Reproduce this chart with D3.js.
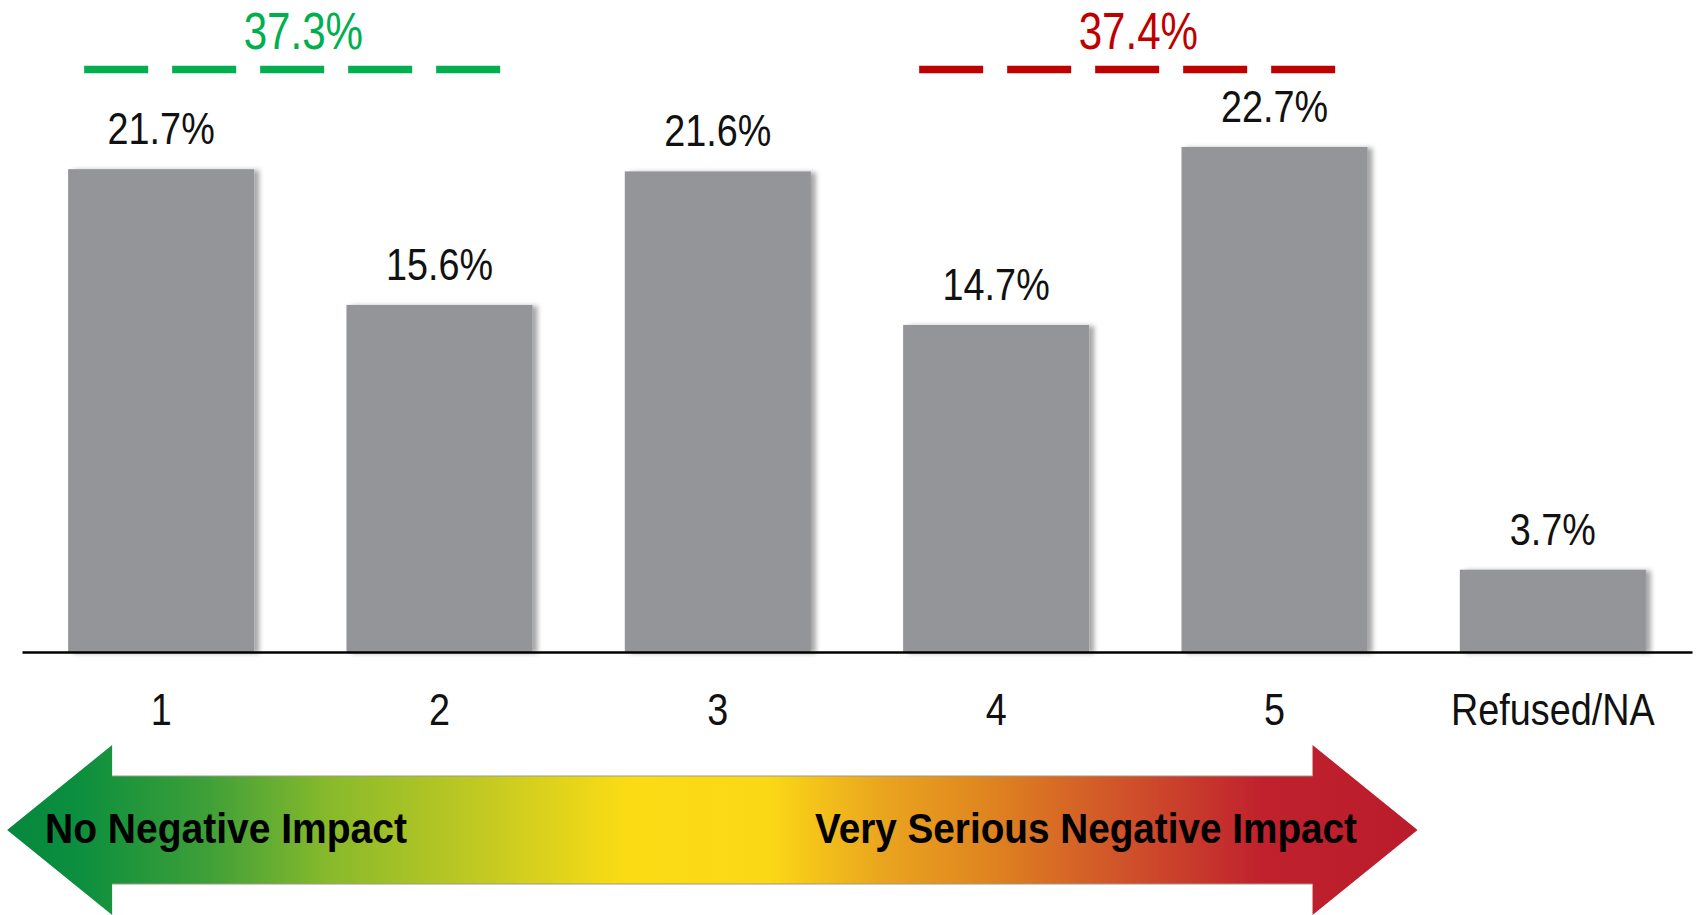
<html>
    <head>
        <script src="https://d3js.org/d3.v7.min.js"></script>
        <style>
            body { margin: 0; background: #fff; }
            .lbl { font-family: "Liberation Sans", Arial, sans-serif; }
        </style>
        <title>Negative impact</title>
    </head>
    <body>
        <div id="chart"></div>
        <script>
            // data
            const categories = ["1", "2", "3", "4", "5", "Refused/NA"];
            const values = [21.7, 15.6, 21.6, 14.7, 22.7, 3.7];
            const groupLabels = ["37.3%", "37.4%"];
            const groupSpans = [["1", "2"], ["4", "5"]];
            const groupColors = ["#00b04f", "#c00000"];
            const arrowLabels = ["No Negative Impact", "Very Serious Negative Impact"];

            const width = 1696;
            const height = 915;
            const baseY = 652;
            const narrow = 0.84; // no condensed font installed, squeeze Liberation Sans

            let svg = d3.select("#chart").append("svg")
                        .attr("width", width)
                        .attr("height", height)

            let defs = svg.append("defs")
            let shadow = defs.append("filter")
                             .attr("id", "shadow")
                             .attr("x", "-10%").attr("y", "-10%")
                             .attr("width", "130%").attr("height", "120%")
            shadow.append("feDropShadow")
                  .attr("dx", 5)
                  .attr("dy", 1)
                  .attr("stdDeviation", 2.5)
                  .attr("flood-color", "#000")
                  .attr("flood-opacity", 0.35)

            let xScale = d3.scaleBand()
                           .domain(categories)
                           .range([22, 1692])
                           .paddingInner(0.3315)
                           .paddingOuter(0.1657)
            let yScale = d3.scaleLinear()
                           .domain([0, 25])
                           .range([baseY, baseY - 25 * 22.25])

            let data = categories.map((c, i) => ({cat: c, val: values[i]}))

            // bars
            svg.append("g").selectAll("rect").data(data)
               .join("rect")
               .attr("x", d => xScale(d.cat))
               .attr("y", d => yScale(d.val))
               .attr("width", xScale.bandwidth())
               .attr("height", d => baseY - yScale(d.val))
               .attr("fill", "#939598")
               .attr("filter", "url(#shadow)")

            // value labels
            svg.append("g").selectAll("text").data(data)
               .join("text")
               .attr("class", "lbl")
               .attr("transform", d => `translate(${xScale(d.cat) + xScale.bandwidth() / 2}, ${yScale(d.val) - 25}) scale(${narrow}, 1)`)
               .attr("text-anchor", "middle")
               .style("font-size", "45px")
               .style("fill", "#111")
               .text(d => d.val.toFixed(1) + "%")

            // baseline + category labels
            let bottomAxis = d3.axisBottom(xScale).tickSize(0).tickPadding(0)
            let axisG = svg.append("g")
                           .attr("transform", `translate(0, ${baseY})`)
                           .call(bottomAxis)
            axisG.select(".domain")
                 .attr("stroke", "#000")
                 .attr("stroke-width", 2.5)
            axisG.selectAll(".tick text")
                 .attr("class", "lbl")
                 .attr("dy", null)
                 .attr("y", null)
                 .attr("transform", `translate(0, 73) scale(${narrow}, 1)`)
                 .style("font-size", "45px")
                 .style("fill", "#111")

            // group dashed lines with totals
            groupSpans.forEach((span, i) => {
                let cx0 = xScale(span[0]) + xScale.bandwidth() / 2
                let cx1 = xScale(span[1]) + xScale.bandwidth() / 2
                svg.append("line")
                   .attr("x1", cx0 - 77)
                   .attr("x2", cx1 + 62)
                   .attr("y1", 69.5)
                   .attr("y2", 69.5)
                   .attr("stroke", groupColors[i])
                   .attr("stroke-width", 7.5)
                   .attr("stroke-dasharray", "64 24")
                svg.append("text")
                   .attr("class", "lbl")
                   .attr("transform", `translate(${(cx0 + cx1) / 2 + 3}, 49) scale(0.81, 1)`)
                   .attr("text-anchor", "middle")
                   .style("font-size", "52px")
                   .style("fill", groupColors[i])
                   .text(groupLabels[i])
            })

            // gradient arrow
            let leftTip = xScale("1") - 61
            let rightTip = xScale("5") + xScale.bandwidth() + 50
            let cy = 830
            let grad = defs.append("linearGradient")
                           .attr("id", "arrow-gradient")
                           .attr("gradientUnits", "userSpaceOnUse")
                           .attr("x1", leftTip).attr("x2", rightTip)
                           .attr("y1", 0).attr("y2", 0)
            grad.selectAll("stop")
                .data([
                    {o: 0.00, c: "#07873d"},
                    {o: 0.05, c: "#0b8f3e"},
                    {o: 0.14, c: "#3d9f38"},
                    {o: 0.23, c: "#89ba2b"},
                    {o: 0.34, c: "#c4ca22"},
                    {o: 0.44, c: "#fbdc14"},
                    {o: 0.54, c: "#fbd816"},
                    {o: 0.62, c: "#eaa51f"},
                    {o: 0.69, c: "#e0871f"},
                    {o: 0.79, c: "#d0532a"},
                    {o: 0.89, c: "#c0212d"},
                    {o: 1.00, c: "#bb1c2c"}
                ])
                .join("stop")
                .attr("offset", d => d.o)
                .attr("stop-color", d => d.c)

            let shaftH = 54, headH = 85, headL = 105
            let pts = [
                [leftTip, cy],
                [leftTip + headL, cy - headH],
                [leftTip + headL, cy - shaftH],
                [rightTip - headL, cy - shaftH],
                [rightTip - headL, cy - headH],
                [rightTip, cy],
                [rightTip - headL, cy + headH],
                [rightTip - headL, cy + shaftH],
                [leftTip + headL, cy + shaftH],
                [leftTip + headL, cy + headH]
            ]
            svg.append("path")
               .attr("d", d3.line()(pts) + "Z")
               .attr("fill", "url(#arrow-gradient)")
            // thin grey edge along the shaft
            svg.append("g").selectAll("line").data([cy - shaftH, cy + shaftH])
               .join("line")
               .attr("x1", leftTip + headL).attr("x2", rightTip - headL)
               .attr("y1", d => d).attr("y2", d => d)
               .attr("stroke", "#9a9a8a")
               .attr("stroke-width", 1)

            svg.append("text")
               .attr("class", "lbl")
               .attr("x", 45)
               .attr("y", 843)
               .attr("textLength", 362)
               .attr("lengthAdjust", "spacingAndGlyphs")
               .style("font-size", "43px")
               .style("font-weight", "bold")
               .style("fill", "#000")
               .text(arrowLabels[0])
            svg.append("text")
               .attr("class", "lbl")
               .attr("x", 815)
               .attr("y", 843)
               .attr("textLength", 542)
               .attr("lengthAdjust", "spacingAndGlyphs")
               .style("font-size", "43px")
               .style("font-weight", "bold")
               .style("fill", "#000")
               .text(arrowLabels[1])
        </script>
    </body>
</html>
